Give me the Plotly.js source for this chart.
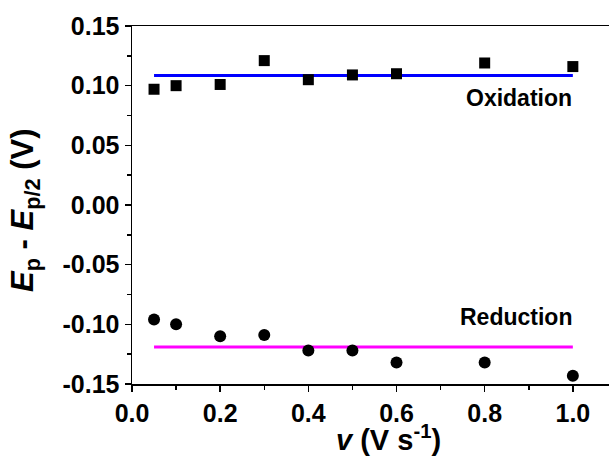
<!DOCTYPE html>
<html>
<head>
<meta charset="utf-8">
<script src="https://cdn.plot.ly/plotly-3.0.1.min.js"></script>
<style>html,body{margin:0;padding:0;background:#fff;}#chart{width:610px;height:456px;}</style>
</head>
<body>
<div id="chart"></div>
<script>
const scanRate = [0.05, 0.1, 0.2, 0.3, 0.4, 0.5, 0.6, 0.8, 1.0];
const oxidation = [0.097, 0.100, 0.101, 0.121, 0.105, 0.109, 0.110, 0.119, 0.116];
const reduction = [-0.096, -0.100, -0.110, -0.109, -0.122, -0.122, -0.132, -0.132, -0.143];
const fitX = [0.05, 1.0];
const oxFit = [0.1085, 0.1085];
const redFit = [-0.119, -0.119];
const xTicks = [0.0, 0.2, 0.4, 0.6, 0.8, 1.0];
const xTickText = ['0.0', '0.2', '0.4', '0.6', '0.8', '1.0'];
const yTicks = [-0.15, -0.10, -0.05, 0.00, 0.05, 0.10, 0.15];
const yTickText = ['-0.15', '-0.10', '-0.05', '0.00', '0.05', '0.10', '0.15'];

const font = 'Liberation Sans, Arial, Helvetica, sans-serif';

const traces = [
  {x: fitX, y: oxFit, mode: 'lines', line: {color: '#0000ff', width: 3}, hoverinfo: 'skip'},
  {x: fitX, y: redFit, mode: 'lines', line: {color: '#ff00ff', width: 3}, hoverinfo: 'skip'},
  {x: scanRate, y: oxidation, mode: 'markers', marker: {symbol: 'square', size: 11, color: '#000'}},
  {x: scanRate, y: reduction, mode: 'markers', marker: {symbol: 'circle', size: 12, color: '#000'}}
];

const layout = {
  width: 610, height: 456,
  margin: {l: 132, r: 1, t: 26, b: 72},
  showlegend: false,
  paper_bgcolor: '#fff', plot_bgcolor: '#fff',
  font: {family: font, color: '#000'},
  xaxis: {
    range: [0, 1.082], showgrid: false, zeroline: false,
    showline: true, linecolor: '#000', linewidth: 1.5, mirror: true,
    ticks: 'outside', ticklen: 6, tickwidth: 1.5, tickcolor: '#000',
    tickvals: xTicks, ticktext: xTickText,
    tickfont: {size: 25, family: font, weight: 'bold'},
    minor: {dtick: 0.1, tick0: 0, ticks: 'outside', ticklen: 4, tickwidth: 1.5, tickcolor: '#000'}
  },
  yaxis: {
    range: [-0.15, 0.15], showgrid: false, zeroline: false,
    showline: true, linecolor: '#000', linewidth: 1.5,
    ticks: 'outside', ticklen: 6, tickwidth: 1.5, tickcolor: '#000',
    tickvals: yTicks, ticktext: yTickText,
    tickfont: {size: 25, family: font, weight: 'bold'},
    minor: {dtick: 0.025, tick0: 0, ticks: 'outside', ticklen: 4, tickwidth: 1.5, tickcolor: '#000'}
  },
  annotations: [
    {x: 1.003, y: 0.0897, xref: 'x', yref: 'y', xanchor: 'right', yanchor: 'middle', showarrow: false,
     text: '<b>Oxidation</b>', font: {size: 23, family: font, color: '#000'}},
    {x: 1.003, y: -0.0939, xref: 'x', yref: 'y', xanchor: 'right', yanchor: 'middle', showarrow: false,
     text: '<b>Reduction</b>', font: {size: 23, family: font, color: '#000'}},
    {x: 388, y: 456 - 438, xref: 'paper', yref: 'paper', showarrow: false, xanchor: 'center', yanchor: 'middle',
     text: '<b><i>v</i> (V s<sup>-1</sup>)</b>', font: {size: 29, family: font, color: '#000'}},
    {x: 25, y: 456 - 211, xref: 'paper', yref: 'paper', showarrow: false, xanchor: 'center', yanchor: 'middle', textangle: -90,
     text: '<b><i>E</i><sub>p</sub> - <i>E</i><sub>p/2</sub> (V)</b>', font: {size: 31, family: font, color: '#000'}}
  ]
};
// convert pixel positions of axis-title annotations to paper coordinates
(function(){
  const pw = 610 - 132 - 1, ph = 456 - 26 - 72;
  const a = layout.annotations;
  a[2].x = (a[2].x - 132) / pw; a[2].y = (a[2].y - 72) / ph;
  a[3].x = (a[3].x - 132) / pw; a[3].y = (a[3].y - 72) / ph;
})();

Plotly.newPlot('chart', traces, layout, {displayModeBar: false, staticPlot: true});
</script>
</body>
</html>
